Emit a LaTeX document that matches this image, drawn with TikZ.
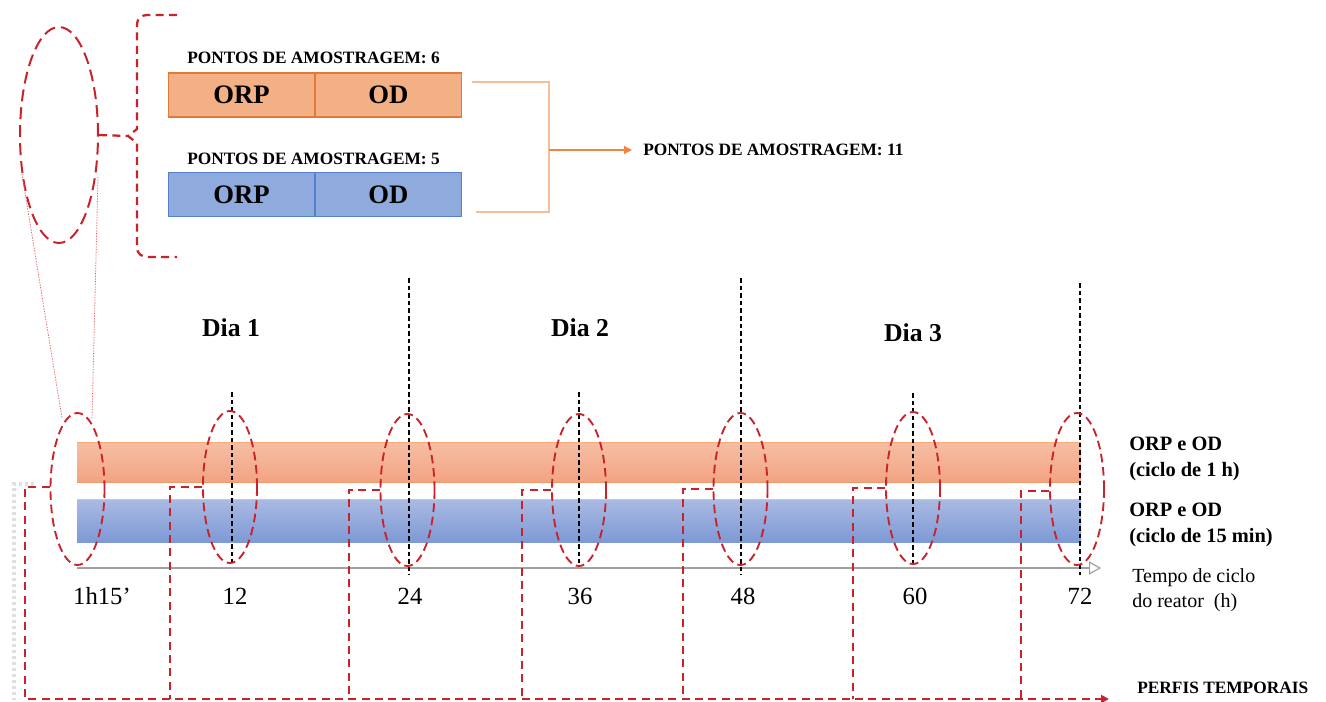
\documentclass[tikz,border=0pt]{standalone}
\usepackage{fontspec}
\setmainfont{Liberation Serif}
\usetikzlibrary{shapes.geometric,arrows.meta,calc}

\definecolor{dred}{HTML}{C8232B}
\definecolor{lred}{HTML}{E06A6A}
\definecolor{orfill}{HTML}{F2B084}
\definecolor{ordraw}{HTML}{E07A36}
\definecolor{blfill}{HTML}{8FAADC}
\definecolor{bldraw}{HTML}{5580CC}
\definecolor{orline}{HTML}{F6BE96}
\definecolor{orarrow}{HTML}{EE8540}
\definecolor{axisgray}{HTML}{A0A0A0}
\definecolor{obartop}{HTML}{F6BEA4}
\definecolor{obarbot}{HTML}{F3A383}
\definecolor{bbartop}{HTML}{AABBE3}
\definecolor{bbarbot}{HTML}{7E99D5}

\tikzset{
  ringbig/.style={ellipse, draw=dred, line width=1.5pt, dash pattern=on 9pt off 4.5pt,
    minimum width=58.5pt, minimum height=162pt, inner sep=0pt},
  ring/.style={ellipse, draw=dred, line width=1.4pt, dash pattern=on 6.5pt off 3.5pt,
    minimum width=40.5pt, minimum height=114pt, inner sep=0pt},
  reddash/.style={draw=dred, line width=1.7pt, dash pattern=on 6pt off 4pt},
  profile/.style={draw=dred, line width=1.9pt, dash pattern=on 6pt off 4pt},
  guide/.style={draw=black, line width=0.9pt, dash pattern=on 3.5pt off 2.2pt},
  lens/.style={draw=lred, line width=0.6pt, dash pattern=on 1pt off 1pt},
  obox/.style={draw=ordraw, fill=orfill, line width=0.9pt, minimum width=110pt,
    minimum height=33pt, inner sep=0pt, font=\fontsize{20}{22}\selectfont\bfseries},
  bbox/.style={draw=bldraw, fill=blfill, line width=0.9pt, minimum width=110pt,
    minimum height=32.5pt, inner sep=0pt, font=\fontsize{20}{22}\selectfont\bfseries},
  smallcap/.style={font=\fontsize{13}{15}\selectfont\bfseries, inner sep=0pt},
  daylab/.style={font=\fontsize{19.3}{22}\selectfont\bfseries, inner sep=0pt},
  ticklab/.style={font=\fontsize{18.5}{20}\selectfont, inner sep=0pt},
  sidelab/.style={font=\fontsize{15.3}{19.3}\selectfont\bfseries, align=left, inner sep=0pt, anchor=west},
  axlab/.style={font=\fontsize{15}{18.8}\selectfont, align=left, inner sep=0pt, anchor=west},
}

\begin{document}
\begin{tikzpicture}[x=0.75pt,y=-0.75pt]
\useasboundingbox (0,0) rectangle (1326,702);

% ---------- sampling points block ----------
\node[smallcap] (p6) at (313.5,58) {PONTOS DE AMOSTRAGEM: 6};
\node[obox] (orp1) at (241.5,95) {ORP};
\node[obox, minimum width=109.5pt] (od1) at (388.25,95) {OD};
\node[smallcap] (p5) at (313.5,158.5) {PONTOS DE AMOSTRAGEM: 5};
\node[bbox] (orp2) at (241.5,194.5) {ORP};
\node[bbox, minimum width=109.5pt] (od2) at (388.25,194.5) {OD};

\node[smallcap, anchor=west] (p11) at (643,150) {PONTOS DE AMOSTRAGEM: 11};

\coordinate (ja) at (472,82);
\coordinate (jb) at (476,212);
\coordinate (jm) at (549,150);
\coordinate (jt) at (632,150);
\draw[orline, line width=1pt] (ja) -| (jm) |- (jb);
\draw[orarrow, line width=1pt, -{Triangle[length=6pt,width=6pt]}] (jm) -- (jt);

% ---------- zoomed sampling window and brace ----------
\node[ringbig] (big) at (59,135) {};
\coordinate (notch) at (128,136);
\draw[reddash] (177,15) -- (147,15) to[out=180,in=90] (137,24) -- (137,129)
  -- (notch) -- (137,143) -- (137,248) to[out=-90,in=180] (147,257) -- (177,257);
\draw[reddash] (big.east) -- (notch);

% ---------- time bars ----------
\shade[top color=obartop, bottom color=obarbot] (77,442) rectangle (1081,482);
\draw[obartop!70!orange, line width=0.6pt] (77,442) -- (1081,442);
\draw[ordraw!75!white, line width=0.7pt] (77,482) -- (1081,482);
\shade[top color=bbartop, bottom color=bbarbot] (77,499) rectangle (1081,542);
\draw[bbartop!80!white, line width=0.6pt] (77,499) -- (1081,499);

% time axis
\coordinate (ax0) at (77,568);
\coordinate (ax1) at (1101,568);
\draw[axisgray, line width=0.9pt, -{Triangle[open, length=9pt, width=10pt]}] (ax0) -- (ax1);

% day separators and sampling instants
\draw[guide] (409,278) -- (409,575);
\draw[guide] (741,278) -- (741,575);
\draw[guide] (1080,283) -- (1080,575);
\draw[guide] (232,392) -- (232,563);
\draw[guide] (579,392) -- (579,563);
\draw[guide] (913,393) -- (913,563);

% day labels
\node[daylab] (d1) at (231,328) {Dia 1};
\node[daylab] (d2) at (580,328) {Dia 2};
\node[daylab] (d3) at (913,333) {Dia 3};

% sampling windows
\node[ring] (e0) at (77.5,489) {};
\node[ring] (e1) at (230,487) {};
\node[ring] (e2) at (407.5,490) {};
\node[ring] (e3) at (579,490) {};
\node[ring] (e4) at (740.5,489) {};
\node[ring] (e5) at (913,488) {};
\node[ring] (e6) at (1077,489) {};

% lens lines from the enlarged window
\coordinate (la) at (22,174);
\coordinate (lb) at (98,177);
\coordinate (lc) at (62,418);
\coordinate (ld) at (92,418);
\draw[lens] (la) -- (lc);
\draw[lens] (lb) -- (ld);

% tick labels
\node[ticklab] (t0) at (102,596) {1h15’};
\node[ticklab] (t1) at (235,596) {12};
\node[ticklab] (t2) at (410,596) {24};
\node[ticklab] (t3) at (580,596) {36};
\node[ticklab] (t4) at (743,596) {48};
\node[ticklab] (t5) at (915,596) {60};
\node[ticklab] (t6) at (1080,596) {72};

% side labels
\node[sidelab] (s1) at (1129,459) {ORP e OD\\(ciclo de 1 h)};
\node[sidelab] (s2) at (1129,525) {ORP e OD\\(ciclo de 15 min)};
\node[axlab] (s3) at (1132,590) {Tempo de ciclo\\do reator\ \ (h)};

% ---------- temporal profiles ----------
\node[font=\fontsize{13}{15}\selectfont\bfseries, inner sep=0pt, anchor=west] (pt) at (1137,688) {PERFIS TEMPORAIS};

\coordinate (b0) at (25,699);
\coordinate (b1) at (170,699);
\coordinate (b2) at (349,699);
\coordinate (b3) at (522,699);
\coordinate (b4) at (683,699);
\coordinate (b5) at (853,699);
\coordinate (b6) at (1021,699);
\coordinate (bend) at (1109,699);

% faint shadow of the first profile line
\draw[black!12, line width=2.4pt, dash pattern=on 2.5pt off 2pt] (34,484) -- (14,484) -- (14,700);

\draw[profile, -{Triangle[length=6pt,width=6pt]}] (e0.west |- 0,487) -| (b0) -- (bend);
\draw[profile] (e1.west) -| (b1);
\draw[profile] (e2.west) -| (b2);
\draw[profile] (e3.west) -| (b3);
\draw[profile] (e4.west) -| (b4);
\draw[profile] (e5.west) -| (b5);
\draw[profile] ($(e6.west)+(0,2)$) -| (b6);
\end{tikzpicture}
\end{document}
